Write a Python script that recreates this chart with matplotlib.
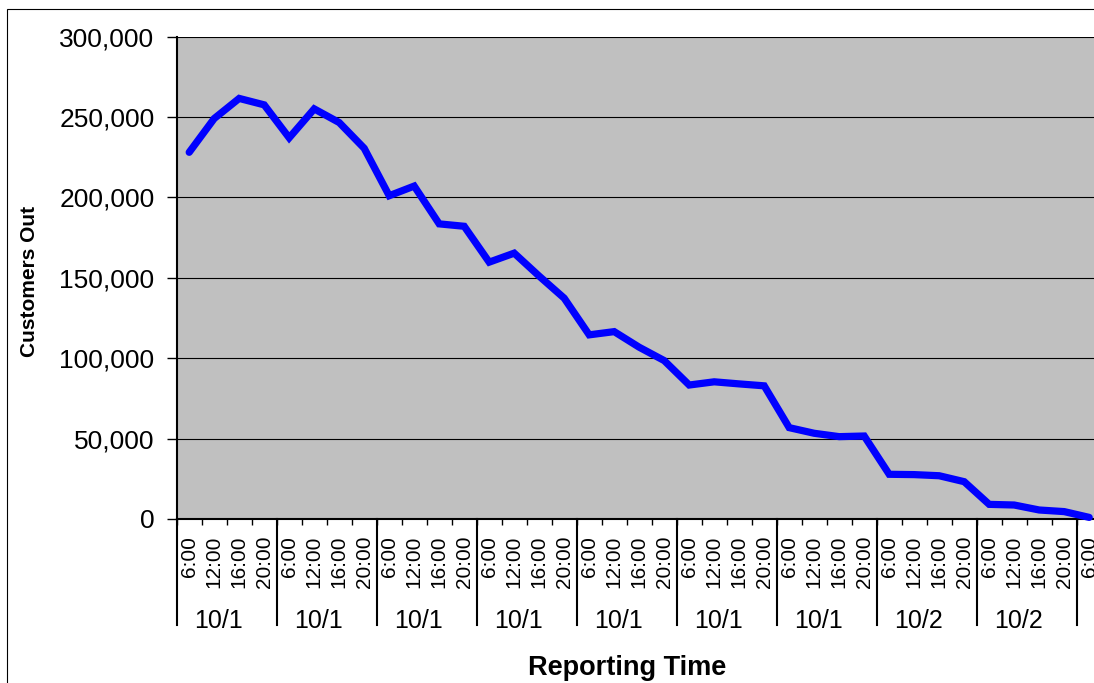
import numpy as np
import matplotlib
matplotlib.use("Agg")
import matplotlib.pyplot as plt
from matplotlib.patches import Rectangle
from matplotlib.transforms import blended_transform_factory
from matplotlib.ticker import MultipleLocator, FuncFormatter

plt.rcParams["font.family"] = ["Liberation Sans", "DejaVu Sans"]

# Reporting times (category axis, inner level)
report_times = [
    "6:00", "12:00", "16:00", "20:00",
    "6:00", "12:00", "16:00", "20:00",
    "6:00", "12:00", "16:00", "20:00",
    "6:00", "12:00", "16:00", "20:00",
    "6:00", "12:00", "16:00", "20:00",
    "6:00", "12:00", "16:00", "20:00",
    "6:00", "12:00", "16:00", "20:00",
    "6:00", "12:00", "16:00", "20:00",
    "6:00", "12:00", "16:00", "20:00",
    "6:00",
]

# Day labels (category axis, outer level, one per block of four reports)
day_labels = ["10/1", "10/1", "10/1", "10/1", "10/1", "10/1", "10/1", "10/2", "10/2"]
reports_per_day = 4

# Customers without power at each report
customers_out = [
    228000, 249000, 261500, 257500, 237000, 255000, 246500, 230500,
    201000, 207000, 183500, 182000, 159700, 165300, 151000, 137300,
    114500, 116500, 106800, 98500, 83300, 85300, 84000, 82800,
    56800, 53300, 51200, 51600, 27800, 27600, 26900, 23200,
    9100, 8700, 5600, 4600, 1000,
]

W, H = 1094, 683
fig = plt.figure(figsize=(W / 100, H / 100), dpi=100)
fig.patch.set_facecolor("white")

ax_left, ax_bottom = 176.7, 519.0
ax_w, ax_h = 925.0, 482.5
ax = fig.add_axes([ax_left / W, (H - ax_bottom) / H, ax_w / W, ax_h / H])
ax.set_facecolor("#C0C0C0")

n = len(customers_out)
xs = np.arange(n)
ax.plot(xs, customers_out, color="#0000FF", lw=5.2, solid_joinstyle="miter",
        solid_capstyle="round", zorder=3, clip_on=False)

ax.set_xlim(-0.5, n - 0.5)
ax.set_ylim(0, 300000)

# Value axis
ax.yaxis.set_major_locator(MultipleLocator(50000))
ax.yaxis.set_major_formatter(FuncFormatter(lambda v, p: f"{int(v):,}"))
ax.grid(axis="y", color="black", lw=0.8, zorder=1)
ax.tick_params(axis="y", direction="out", length=7, width=1, pad=9,
               labelsize=19, colors="black")

for side in ("top", "right"):
    ax.spines[side].set_visible(False)
for side in ("left", "bottom"):
    ax.spines[side].set_linewidth(1.5)
    ax.spines[side].set_color("black")

# Category axis: boundary ticks (major) and time labels (minor)
ax.set_xticks(np.arange(-0.5, n, 1.0))
ax.set_xticklabels([])
ax.tick_params(axis="x", which="major", direction="out", length=4.5, width=1)
ax.set_xticks(xs, minor=True)
ax.set_xticklabels(report_times, minor=True, rotation=90, fontsize=15, va="top")
ax.tick_params(axis="x", which="minor", length=0, pad=12)

# Day separators and day labels
trans = blended_transform_factory(ax.transData, ax.transAxes)
sep_depth = (625 - ax_bottom) / ax_h
for b in range(0, n + 1, reports_per_day):
    ax.plot([b - 0.5, b - 0.5], [0, -sep_depth], transform=trans,
            color="black", lw=1.5, clip_on=False)

label_y = -(628 - ax_bottom) / ax_h
for g, lab in enumerate(day_labels):
    cx = g * reports_per_day + (reports_per_day - 1) / 2 - 0.32
    ax.text(cx, label_y, lab, transform=trans, ha="center", va="baseline",
            fontsize=18, color="black")

# Axis titles
fig.text(30 / W, 1 - 281 / H, "Customers Out", rotation=90, fontweight="bold",
         fontsize=15, ha="center", va="center")
fig.text(627 / W, 1 - 675 / H, "Reporting Time", fontweight="bold",
         fontsize=19.5, ha="center", va="baseline")

# Chart area border
fig.add_artist(Rectangle((7 / W, -0.05), 1.1, (H - 9) / H + 0.05,
                         transform=fig.transFigure, fill=False,
                         ec="black", lw=0.8))

fig.savefig("out.png", dpi=100)
